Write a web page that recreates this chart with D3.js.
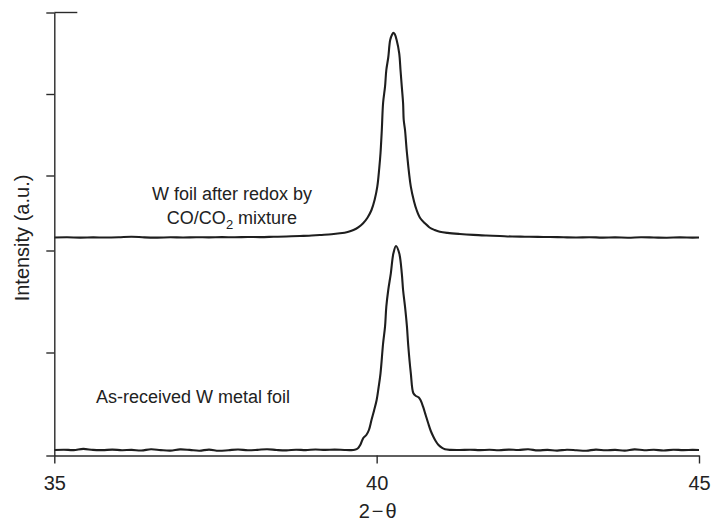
<!DOCTYPE html>
<html>
<head>
<meta charset="utf-8">
<script src="https://cdn.jsdelivr.net/npm/d3@7"></script>
<style>
  body { margin: 0; background: #fff; }
  svg { display: block; font-family: "Liberation Sans", Arial, sans-serif; }
  .axis path, .axis line { stroke: #2a2a2a; stroke-width: 1.4; }
  .axis text { font-size: 20px; fill: #222; }
</style>
</head>
<body>
<svg id="xrd" width="713" height="522"></svg>
<script>
// XRD patterns of W foil, 2-theta vs intensity (a.u.)
var xTicks = [35, 40, 45];
var yTicks = [0, 103, 205, 280, 361.5, 443];

// W foil after redox by CO/CO2 mixture (upper trace)
var redoxTheta = [35.00, 35.20, 35.40, 35.60, 35.80, 36.00, 36.20, 36.40, 36.60, 36.80,
    37.00, 37.20, 37.40, 37.60, 37.80, 38.00, 38.20, 38.40, 38.60, 38.81, 38.95, 39.12,
    39.30, 39.43, 39.55, 39.64, 39.72, 39.79, 39.86, 39.92, 39.97, 40.01, 40.04, 40.06,
    40.08, 40.10, 40.13, 40.15, 40.18, 40.21, 40.24, 40.26, 40.28, 40.31, 40.35, 40.37,
    40.39, 40.41, 40.42, 40.44, 40.47, 40.53, 40.58, 40.62, 40.68, 40.75, 40.82, 40.90,
    40.98, 41.10, 41.29, 41.50, 41.70, 41.91, 42.10, 42.30, 42.50, 42.69, 42.90, 43.10,
    43.30, 43.50, 43.70, 43.90, 44.10, 44.30, 44.50, 44.70, 44.90, 45.00];
var redoxInt = [218.0, 218.2, 217.9, 218.1, 218.0, 218.3, 218.8, 218.1, 217.9, 218.2,
    218.0, 218.3, 218.1, 218.4, 218.2, 218.5, 218.4, 218.7, 219.0, 219.5, 219.8, 220.5,
    221.2, 222.2, 223.6, 225.5, 228.4, 232.2, 238.0, 245.5, 256.0, 268.8, 287.0, 302.5,
    325.5, 352.5, 368.8, 385.5, 398.0, 415.5, 421.0, 422.8, 421.5, 415.5, 402.2, 385.5,
    368.8, 352.5, 335.5, 325.5, 302.5, 268.8, 254.0, 245.5, 237.0, 232.2, 228.0, 225.5,
    223.8, 222.6, 221.5, 220.6, 220.0, 219.5, 219.0, 218.8, 218.6, 218.5, 218.2, 218.0,
    218.3, 217.9, 218.1, 217.8, 218.2, 218.0, 217.8, 218.1, 217.9, 218.0];

// As-received W metal foil (lower trace)
var asRecTheta = [35.00, 35.15, 35.30, 35.45, 35.60, 35.75, 35.90, 36.05, 36.20, 36.35,
    36.50, 36.65, 36.80, 36.95, 37.10, 37.25, 37.40, 37.55, 37.70, 37.85, 38.00, 38.15,
    38.30, 38.45, 38.60, 38.75, 38.90, 39.05, 39.20, 39.35, 39.50, 39.60, 39.66, 39.71,
    39.75, 39.79, 39.84, 39.88, 39.92, 39.96, 40.00, 40.03, 40.06, 40.10, 40.13, 40.15,
    40.18, 40.22, 40.26, 40.30, 40.35, 40.39, 40.41, 40.44, 40.47, 40.49, 40.53, 40.57,
    40.61, 40.65, 40.68, 40.72, 40.76, 40.80, 40.84, 40.88, 40.92, 40.96, 41.01, 41.06,
    41.15, 41.29, 41.45, 41.60, 41.75, 41.90, 42.05, 42.20, 42.35, 42.50, 42.65, 42.80,
    42.95, 43.10, 43.25, 43.40, 43.55, 43.70, 43.85, 44.00, 44.15, 44.30, 44.45, 44.60,
    44.75, 44.90, 45.00];
var asRecInt = [5.5, 5.8, 5.4, 6.6, 5.6, 5.4, 5.9, 5.3, 5.6, 5.0,
    6.2, 5.4, 4.9, 6.1, 5.6, 4.8, 5.9, 4.7, 5.3, 6.0, 5.2, 5.6,
    6.3, 5.5, 5.1, 5.8, 5.4, 6.0, 5.6, 5.9, 5.5, 5.4, 5.8, 7.2,
    11.0, 17.2, 20.5, 25.5, 35.5, 45.0, 55.5, 68.0, 82.2, 112.0, 128.8, 148.8,
    165.5, 182.2, 202.2, 209.5, 202.2, 182.2, 165.5, 148.8, 128.8, 110.0, 82.2, 62.2,
    59.5, 58.2, 55.5, 48.8, 40.5, 32.2, 24.5, 18.8, 14.0, 10.5, 7.8, 6.2,
    5.6, 5.5, 5.8, 5.4, 5.7, 5.3, 5.9, 5.5, 6.2, 5.1, 5.6, 4.9,
    5.8, 5.3, 4.8, 5.9, 5.2, 5.6, 4.9, 6.1, 5.3, 5.7, 5.0, 5.8,
    5.4, 5.6, 5.5];

var svg = d3.select("#xrd");

var x = d3.scaleLinear().domain([35, 45]).range([54.3, 699]);
var y = d3.scaleLinear().domain([0, 443]).range([455.5, 12.5]);

var line = d3.line()
    .x(function(d) { return x(d[0]); })
    .y(function(d) { return y(d[1]); })
    .curve(d3.curveCatmullRom.alpha(0.5));

function pairs(xs, ys) {
    return xs.map(function(v, i) { return [v, ys[i]]; });
}

// traces
svg.append("path")
    .datum(pairs(redoxTheta, redoxInt))
    .attr("d", line)
    .attr("fill", "none")
    .attr("stroke", "#1e1e1e")
    .attr("stroke-width", 2.1)
    .attr("stroke-linejoin", "round");

svg.append("path")
    .datum(pairs(asRecTheta, asRecInt))
    .attr("d", line)
    .attr("fill", "none")
    .attr("stroke", "#1e1e1e")
    .attr("stroke-width", 2.1)
    .attr("stroke-linejoin", "round");

// axes
svg.append("g")
    .attr("class", "axis")
    .attr("transform", "translate(0," + y(0) + ")")
    .call(d3.axisBottom(x).tickValues(xTicks).tickSize(8).tickSizeOuter(0).tickPadding(12))
    .selectAll("text").attr("dy", "0.71em");

svg.append("g")
    .attr("class", "axis")
    .attr("transform", "translate(" + x(35) + ",0)")
    .call(d3.axisLeft(y).tickValues(yTicks).tickSize(8).tickSizeOuter(0).tickFormat(""));

// short cap at the top of the y axis
svg.append("line")
    .attr("x1", x(35)).attr("x2", x(35) + 23)
    .attr("y1", y(443)).attr("y2", y(443))
    .attr("stroke", "#2a2a2a").attr("stroke-width", 1.4);

// axis titles
svg.append("text")
    .attr("x", (x(35) + x(45)) / 2 + 2)
    .attr("y", 518)
    .attr("text-anchor", "middle")
    .attr("font-size", 20)
    .attr("letter-spacing", 2)
    .attr("fill", "#222")
    .text("2\u2212\u03b8");

svg.append("text")
    .attr("transform", "translate(29," + 238 + ") rotate(-90)")
    .attr("text-anchor", "middle")
    .attr("font-size", 20)
    .attr("fill", "#222")
    .text("Intensity (a.u.)");

// annotations
svg.append("text")
    .attr("x", 232).attr("y", 200)
    .attr("text-anchor", "middle")
    .attr("font-size", 18).attr("fill", "#222")
    .text("W foil after redox by");

var t2 = svg.append("text")
    .attr("x", 232).attr("y", 224)
    .attr("text-anchor", "middle")
    .attr("font-size", 18).attr("fill", "#222");
t2.append("tspan").text("CO/CO");
t2.append("tspan").attr("font-size", 13).attr("dy", 5).text("2");
t2.append("tspan").attr("dy", -5).text(" mixture");

svg.append("text")
    .attr("x", 193).attr("y", 403)
    .attr("text-anchor", "middle")
    .attr("font-size", 18).attr("fill", "#222")
    .text("As-received W metal foil");
</script>
</body>
</html>
